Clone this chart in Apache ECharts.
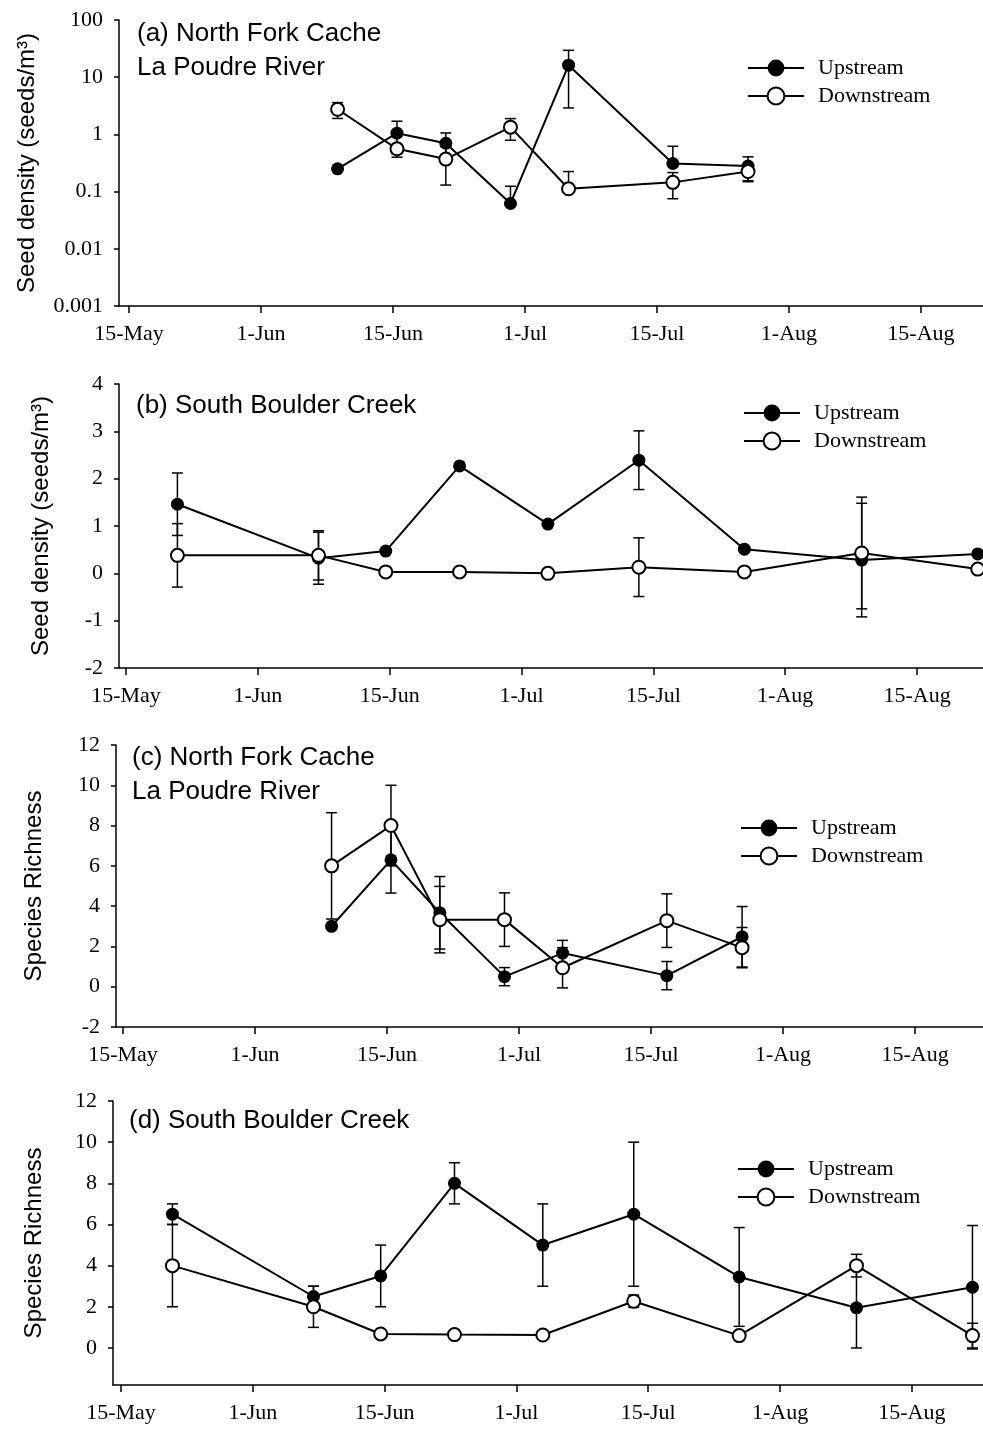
<!DOCTYPE html>
<html>
<head>
<meta charset="utf-8">
<script src="https://cdn.jsdelivr.net/npm/echarts@6/dist/echarts.min.js"></script>
<style>
html, body { margin: 0; padding: 0; background: #fff; }
#main { width: 983px; height: 1429px; }
</style>
</head>
<body>
<div id="main"></div>
<script>
// x positions in tick units: 0 = 15-May, 1 = 1-Jun, 2 = 15-Jun ... (ticks are equally spaced on the original)
var tickLabels = ['15-May', '1-Jun', '15-Jun', '1-Jul', '15-Jul', '1-Aug', '15-Aug'];
var poudreX = [1.58, 2.03, 2.40, 2.89, 3.33, 4.12, 4.69];
var boulderX = [0.39, 1.46, 1.97, 2.53, 3.20, 3.89, 4.69, 5.58, 6.46];

// (a) North Fork Cache La Poudre, seed density (log)
var aUp = [0.25, 1.05, 0.70, 0.062, 16.2, 0.31, 0.28];
var aUpErr = [0, 0.65, 0.36, 0.062, 13.3, 0.31, 0.125];
var aDown = [2.75, 0.56, 0.37, 1.34, 0.112, 0.145, 0.224];
var aDownErr = [0.85, 0.1, 0.24, 0.55, 0.112, 0.07, 0.075];

// (b) South Boulder Creek, seed density
var bUp = [1.46, 0.32, 0.47, 2.27, 1.04, 2.39, 0.51, 0.28, 0.41];
var bUpErr = [0.66, 0.55, 0, 0, 0, 0.62, 0, 1.2, 0];
var bDown = [0.38, 0.38, 0.03, 0.03, 0.0, 0.13, 0.03, 0.43, 0.09];
var bDownErr = [0.67, 0.52, 0, 0, 0, 0.62, 0, 1.18, 0];

// (c) North Fork Cache La Poudre, species richness
var cUp = [3.0, 6.3, 3.67, 0.5, 1.67, 0.55, 2.48];
var cUpErr = [0, 1.65, 1.8, 0.45, 0.63, 0.7, 1.5];
var cDown = [6.0, 8.0, 3.33, 3.33, 0.94, 3.28, 1.94];
var cDownErr = [2.64, 2.0, 1.65, 1.33, 1.0, 1.33, 1.0];

// (d) South Boulder Creek, species richness
var dUp = [6.5, 2.5, 3.5, 8.0, 5.0, 6.5, 3.45, 1.95, 2.95];
var dUpErr = [0.5, 0.5, 1.5, 1.0, 2.0, 3.5, 2.4, 1.95, 3.0];
var dDown = [4.0, 2.0, 0.68, 0.65, 0.63, 2.27, 0.6, 4.0, 0.6];
var dDownErr = [2.0, 1.0, 0, 0, 0, 0.3, 0, 0.55, 0.6];

var serif = 'Liberation Serif';
var sans = 'Liberation Sans';

function pairs(xs, ys) {
  return xs.map(function (x, i) { return [x, ys[i]]; });
}

// vertical error bar with caps; on the log panel a bar reaching zero only gets its upper half
function errSeries(xs, ys, es, gi, isLog) {
  var data = [];
  xs.forEach(function (x, i) {
    if (es[i] > 0) data.push([x, ys[i] - es[i], ys[i] + es[i], ys[i]]);
  });
  return {
    type: 'custom', xAxisIndex: gi, yAxisIndex: gi, data: data, z: 1, silent: true,
    encode: { x: 0, y: [1, 2] },
    renderItem: function (params, api) {
      var x = api.value(0), lo = api.value(1), hi = api.value(2), mid = api.value(3);
      var hasLow = !isLog || lo > 1e-9;
      var pTop = api.coord([x, hi]);
      var pBot = api.coord([x, hasLow ? lo : mid]);
      var st = { stroke: '#000', lineWidth: 1.5 };
      var kids = [
        { type: 'line', shape: { x1: pTop[0], y1: pTop[1], x2: pBot[0], y2: pBot[1] }, style: st },
        { type: 'line', shape: { x1: pTop[0] - 5.5, y1: pTop[1], x2: pTop[0] + 5.5, y2: pTop[1] }, style: st }
      ];
      if (hasLow) {
        kids.push({ type: 'line', shape: { x1: pBot[0] - 5.5, y1: pBot[1], x2: pBot[0] + 5.5, y2: pBot[1] }, style: st });
      }
      return { type: 'group', children: kids };
    }
  };
}

function lineSeries(name, xs, ys, gi, filled) {
  return {
    name: name, type: 'line', xAxisIndex: gi, yAxisIndex: gi,
    data: pairs(xs, ys), symbol: 'circle', symbolSize: 13,
    lineStyle: { color: '#000', width: 2 },
    itemStyle: { color: filled ? '#000' : '#fff', borderColor: '#000', borderWidth: filled ? 0 : 2 },
    emphasis: { disabled: true }, z: filled ? 3 : 4
  };
}

var grids = [
  { left: 119, top: 20, width: 864, height: 286 },
  { left: 119, top: 384, width: 864, height: 284 },
  { left: 116, top: 745, width: 867, height: 282 },
  { left: 113, top: 1101, width: 870, height: 284 }
];
var xRanges = [[-0.076, 6.47], [-0.053, 6.50], [-0.053, 6.515], [-0.061, 6.54]];

var xAxes = xRanges.map(function (r, i) {
  return {
    type: 'value', gridIndex: i, min: r[0], max: r[1],
    axisLine: { onZero: false, lineStyle: { color: '#000', width: 1.5 } },
    axisTick: { length: 7, lineStyle: { color: '#000', width: 1.5 }, customValues: [0, 1, 2, 3, 4, 5, 6] },
    axisLabel: {
      customValues: [0, 1, 2, 3, 4, 5, 6], margin: 17, color: '#000',
      fontFamily: serif, fontSize: 22,
      formatter: function (v) { return tickLabels[Math.round(v)]; }
    },
    splitLine: { show: false }
  };
});

var yBase = {
  axisLine: { show: true, onZero: false, lineStyle: { color: '#000', width: 1.5 } },
  axisTick: { show: true, length: 5, lineStyle: { color: '#000', width: 1.5 } },
  axisLabel: { color: '#000', fontFamily: serif, fontSize: 22, margin: 16 },
  splitLine: { show: false },
  nameLocation: 'middle', nameRotate: 90,
  nameTextStyle: { color: '#000', fontFamily: sans, fontSize: 24 }
};
function yAxis(extra) {
  return echarts.util.merge(echarts.util.clone(yBase), extra, true);
}

var yAxes = [
  yAxis({ type: 'log', logBase: 10, gridIndex: 0, min: 0.001, max: 100, name: 'Seed density (seeds/m³)', nameGap: 80,
    axisLabel: { formatter: function (v) { return String(Number(v.toPrecision(2))); } } }),
  yAxis({ type: 'value', gridIndex: 1, min: -2, max: 4, interval: 1, name: 'Seed density (seeds/m³)', nameGap: 66 }),
  yAxis({ type: 'value', gridIndex: 2, min: -2, max: 12, interval: 2, name: 'Species Richness', nameGap: 70 }),
  yAxis({ type: 'value', gridIndex: 3, min: -1.8, max: 12, name: 'Species Richness', nameGap: 67,
    axisTick: { customValues: [0, 2, 4, 6, 8, 10, 12] },
    axisLabel: { customValues: [0, 2, 4, 6, 8, 10, 12] } })
];

var titleStyle = { color: '#000', fontFamily: sans, fontSize: 26, fontWeight: 'normal', lineHeight: 34 };
var titles = [
  { text: '(a) North Fork Cache\nLa Poudre River', left: 137, top: 17 },
  { text: '(b) South Boulder Creek', left: 136, top: 389 },
  { text: '(c) North Fork Cache\nLa Poudre River', left: 132, top: 741 },
  { text: '(d) South Boulder Creek', left: 129, top: 1104 }
].map(function (t) { t.textStyle = titleStyle; t.padding = 0; return t; });

var legendPos = [[747, 57], [743, 402], [740, 817], [737, 1158]];
var legends = legendPos.map(function (p) {
  return {
    data: ['Upstream', 'Downstream'], orient: 'vertical', left: p[0], top: p[1],
    itemWidth: 56, itemHeight: 21, itemGap: 6, padding: 0, selectedMode: false,
    textStyle: { color: '#000', fontFamily: serif, fontSize: 22, padding: [0, 0, 0, 9] }
  };
});

var option = {
  animation: false,
  backgroundColor: '#fff',
  title: titles,
  legend: legends,
  grid: grids,
  xAxis: xAxes,
  yAxis: yAxes,
  series: [
    errSeries(poudreX, aUp, aUpErr, 0, true),
    errSeries(poudreX, aDown, aDownErr, 0, true),
    lineSeries('Upstream', poudreX, aUp, 0, true),
    lineSeries('Downstream', poudreX, aDown, 0, false),
    errSeries(boulderX, bUp, bUpErr, 1, false),
    errSeries(boulderX, bDown, bDownErr, 1, false),
    lineSeries('Upstream', boulderX, bUp, 1, true),
    lineSeries('Downstream', boulderX, bDown, 1, false),
    errSeries(poudreX, cUp, cUpErr, 2, false),
    errSeries(poudreX, cDown, cDownErr, 2, false),
    lineSeries('Upstream', poudreX, cUp, 2, true),
    lineSeries('Downstream', poudreX, cDown, 2, false),
    errSeries(boulderX, dUp, dUpErr, 3, false),
    errSeries(boulderX, dDown, dDownErr, 3, false),
    lineSeries('Upstream', boulderX, dUp, 3, true),
    lineSeries('Downstream', boulderX, dDown, 3, false)
  ]
};

var myChart = echarts.init(document.getElementById('main'));
myChart.setOption(option);
</script>
</body>
</html>
